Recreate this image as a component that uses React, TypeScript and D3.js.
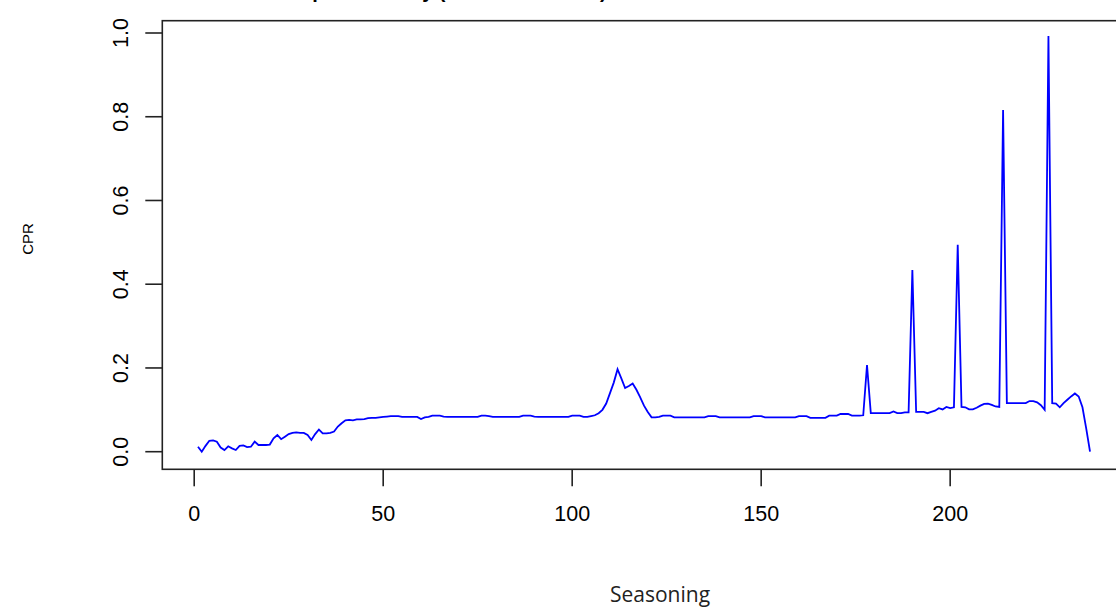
import React from "react";
import * as d3 from "d3";

// Seasoning months 1..237 and CPR values
const cpr: number[] = [
  // 1-20
  0.012, 0.0, 0.014, 0.026, 0.027, 0.024, 0.01, 0.004, 0.013, 0.008,
  0.004, 0.014, 0.015, 0.011, 0.012, 0.024, 0.016, 0.016, 0.016, 0.017,
  // 21-40
  0.032, 0.04, 0.03, 0.036, 0.042, 0.045, 0.046, 0.045, 0.045, 0.04,
  0.028, 0.042, 0.053, 0.044, 0.044, 0.045, 0.048, 0.06, 0.068, 0.075,
  // 41-60
  0.076, 0.075, 0.077, 0.077, 0.078, 0.08, 0.081, 0.081, 0.082, 0.083,
  0.084, 0.085, 0.085, 0.085, 0.083, 0.083, 0.083, 0.083, 0.083, 0.078,
  // 61-80
  0.082, 0.083, 0.086, 0.086, 0.086, 0.084, 0.083, 0.083, 0.083, 0.083,
  0.083, 0.083, 0.083, 0.083, 0.083, 0.086, 0.086, 0.085, 0.083, 0.083,
  // 81-100
  0.083, 0.083, 0.083, 0.083, 0.083, 0.083, 0.086, 0.086, 0.086, 0.084,
  0.083, 0.083, 0.083, 0.083, 0.083, 0.083, 0.083, 0.083, 0.083, 0.086,
  // 101-120
  0.086, 0.086, 0.083, 0.083, 0.085, 0.087, 0.092, 0.1, 0.115, 0.14,
  0.165, 0.197, 0.175, 0.152, 0.157, 0.163, 0.148, 0.13, 0.11, 0.095,
  // 121-140
  0.082, 0.082, 0.083, 0.086, 0.086, 0.086, 0.082, 0.082, 0.082, 0.082,
  0.082, 0.082, 0.082, 0.082, 0.082, 0.085, 0.085, 0.085, 0.082, 0.082,
  // 141-160
  0.082, 0.082, 0.082, 0.082, 0.082, 0.082, 0.082, 0.085, 0.085, 0.085,
  0.082, 0.082, 0.082, 0.082, 0.082, 0.082, 0.082, 0.082, 0.082, 0.085,
  // 161-180
  0.085, 0.085, 0.081, 0.081, 0.081, 0.081, 0.081, 0.086, 0.086, 0.086,
  0.09, 0.09, 0.09, 0.086, 0.086, 0.086, 0.087, 0.207, 0.092, 0.092,
  // 181-200
  0.092, 0.092, 0.092, 0.092, 0.096, 0.092, 0.092, 0.094, 0.094, 0.434,
  0.095, 0.095, 0.095, 0.092, 0.095, 0.098, 0.104, 0.101, 0.107, 0.104,
  // 201-220
  0.106, 0.494, 0.107, 0.106, 0.101, 0.101, 0.105, 0.11, 0.114, 0.115,
  0.112, 0.108, 0.107, 0.816, 0.116, 0.116, 0.116, 0.116, 0.116, 0.116,
  // 221-237
  0.121, 0.121, 0.118, 0.111, 0.1, 0.993, 0.116, 0.115, 0.106, 0.116,
  0.124, 0.132, 0.139, 0.132, 0.106, 0.055, 0.0,
];
const seasoning: number[] = cpr.map((_, i) => i + 1);

const xTicks: number[] = [0, 50, 100, 150, 200];
const yTicks: number[] = [0.0, 0.2, 0.4, 0.6, 0.8, 1.0];

const title = "Deal Speed History (Annualized CPR) for All Loans in the Deal Collateral";
const xLabel = "Seasoning";
const yLabel = "CPR";

export default function App() {
  const W = 1116;
  const H = 611;
  const left = 162.3;
  const right = 1125.7;
  const top = 20.7;
  const bottom = 469.3;

  const xMin = d3.min(seasoning)!;
  const xMax = d3.max(seasoning)!;
  const xPad = 0.04 * (xMax - xMin);
  const x = d3.scaleLinear().domain([xMin - xPad, xMax + xPad]).range([left, right]);
  const y = d3.scaleLinear().domain([0, 1]).range([451.7, 33]);

  const line = d3
    .line<number>()
    .x((_, i) => x(seasoning[i]))
    .y((d) => y(d));

  const axisColor = "#222";
  const tickFont = "'Liberation Sans', Arial, sans-serif";

  return (
    <svg
      width={W}
      height={H}
      style={{ position: "absolute", left: 0, top: 0, background: "#fff" }}
    >
      <rect x={0} y={0} width={W} height={H} fill="#fff" />
      <text
        x={251}
        y={-2}
        fontFamily={tickFont}
        fontWeight="bold"
        fontSize={20}
        fill="#000"
      >
        {title}
      </text>
      <path d={line(cpr) || ""} fill="none" stroke="#0000ff" strokeWidth={1.8} />
      <rect
        x={left}
        y={top}
        width={right - left}
        height={bottom - top}
        fill="none"
        stroke={axisColor}
        strokeWidth={1.6}
      />
      {xTicks.map((t) => (
        <g key={"x" + t}>
          <line x1={x(t)} x2={x(t)} y1={bottom} y2={bottom + 17} stroke={axisColor} strokeWidth={1.6} />
          <text
            x={x(t)}
            y={521}
            textAnchor="middle"
            fontFamily={tickFont}
            fontSize={21.5}
            fill="#000"
          >
            {t}
          </text>
        </g>
      ))}
      {yTicks.map((t) => (
        <g key={"y" + t}>
          <line x1={left - 17} x2={left} y1={y(t)} y2={y(t)} stroke={axisColor} strokeWidth={1.6} />
          <text
            transform={`translate(128,${y(t)}) rotate(-90)`}
            textAnchor="middle"
            fontFamily={tickFont}
            fontSize={21.5}
            fill="#000"
          >
            {t.toFixed(1)}
          </text>
        </g>
      ))}
      <text
        transform={`translate(33,239) rotate(-90)`}
        textAnchor="middle"
        fontFamily={tickFont}
        fontSize={15}
        fill="#000"
      >
        {yLabel}
      </text>
      <text
        x={660}
        y={601.5}
        textAnchor="middle"
        fontFamily="'Open Sans', sans-serif"
        fontSize={21}
        fill="#222"
      >
        {xLabel}
      </text>
    </svg>
  );
}
